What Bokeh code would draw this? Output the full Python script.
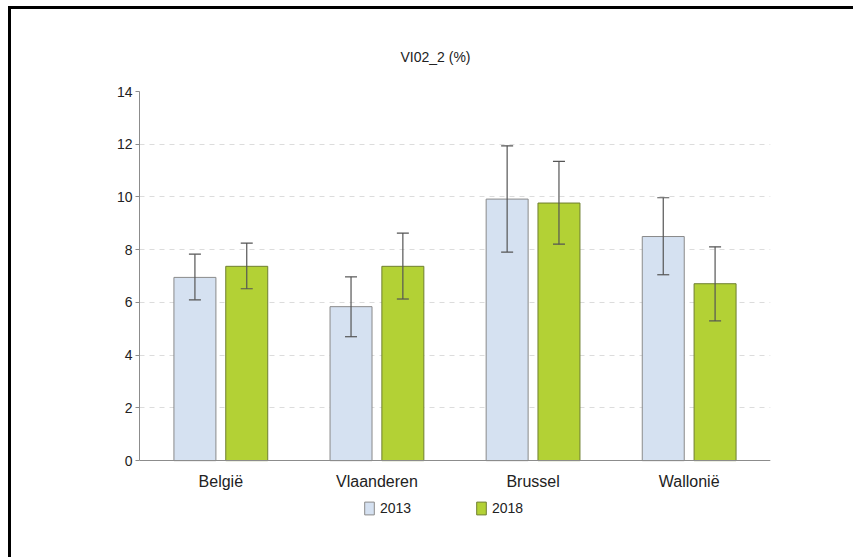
from bokeh.plotting import figure
from bokeh.models import (ColumnDataSource, FactorRange, Range1d, FixedTicker,
                          Whisker, TeeHead, Legend, LegendItem)
from bokeh.transform import dodge
from bokeh.embed import file_html
from bokeh.resources import INLINE

# ---- data ----
regions = ["België", "Vlaanderen", "Brussel", "Wallonië"]
val_2013 = [6.95, 5.84, 9.92, 8.50]
low_2013 = [6.10, 4.70, 7.91, 7.05]
up_2013 = [7.83, 6.97, 11.94, 9.97]
val_2018 = [7.37, 7.37, 9.77, 6.71]
low_2018 = [6.52, 6.13, 8.21, 5.30]
up_2018 = [8.25, 8.63, 11.35, 8.11]
years = ["2013", "2018"]
y_ticks = [0, 2, 4, 6, 8, 10, 12, 14]

FONT = "Liberation Sans"
C2013 = "#d5e1f1"
C2018 = "#b3d135"

src = ColumnDataSource(dict(cat=regions, v13=val_2013, l13=low_2013, u13=up_2013,
                            v18=val_2018, l18=low_2018, u18=up_2018))

# frame extends below zero so the legend can sit inside it; x axis pinned at 0
p = figure(x_range=FactorRange(factors=regions, range_padding=0.0105,
                               range_padding_units="percent"),
           y_range=Range1d(-2.27, 14),
           frame_width=631, frame_height=429,
           min_border_left=128, min_border_right=83,
           min_border_top=82, min_border_bottom=37,
           output_backend="svg", toolbar_location=None,
           title="VI02_2 (%)")
p.styles = {"border-left": "3px solid black", "border-top": "3px solid black",
            "margin-left": "8px", "margin-top": "6px"}

p.outline_line_color = None
p.title.text_font = FONT
p.title.text_font_size = "14px"
p.title.text_font_style = "normal"
p.title.text_color = "#222222"
p.title.align = "left"
p.title.offset = 261
p.title.standoff = 54

r13 = p.vbar(x=dodge("cat", -0.166, range=p.x_range), top="v13", width=0.269,
             source=src, fill_color=C2013, line_color="#8a8a8a", line_width=1)
r18 = p.vbar(x=dodge("cat", 0.166, range=p.x_range), top="v18", width=0.269,
             source=src, fill_color=C2018, line_color="#6f7f30", line_width=1)

for off, lo, hi in [(-0.166, "l13", "u13"), (0.166, "l18", "u18")]:
    w = Whisker(base=dodge("cat", off, range=p.x_range), lower=lo, upper=hi,
                source=src, line_color="#555555", line_width=1.2, level="overlay",
                upper_head=TeeHead(size=12, line_color="#555555", line_width=1.2),
                lower_head=TeeHead(size=12, line_color="#555555", line_width=1.2))
    p.add_layout(w)

# axes
p.yaxis.ticker = FixedTicker(ticks=y_ticks)
p.yaxis.bounds = (0, 14)
p.yaxis.axis_line_color = "#8c8c8c"
p.yaxis.major_tick_line_color = "#8c8c8c"
p.yaxis.major_tick_out = 4
p.yaxis.major_tick_in = 0
p.yaxis.minor_tick_line_color = None
p.yaxis.major_label_standoff = 3
p.yaxis.major_label_text_font = FONT
p.yaxis.major_label_text_font_size = "14px"
p.yaxis.major_label_text_color = "#222222"

p.xaxis.fixed_location = 0
p.xaxis.axis_line_color = "#8c8c8c"
p.xaxis.major_tick_line_color = None
p.xaxis.major_tick_out = 0
p.xaxis.major_label_standoff = 12
p.xaxis.major_label_text_font = FONT
p.xaxis.major_label_text_font_size = "16px"
p.xaxis.major_label_text_color = "#222222"

p.xgrid.grid_line_color = None
p.ygrid.grid_line_color = "#dcdcdc"
p.ygrid.grid_line_dash = "5 5"
p.ygrid.grid_line_width = 1

legend = Legend(items=[LegendItem(label=years[0], renderers=[r13]),
                       LegendItem(label=years[1], renderers=[r18])],
                orientation="horizontal", location=(224, 4),
                glyph_width=12, glyph_height=16, label_standoff=5,
                label_width=52, spacing=43,
                padding=0, margin=0, border_line_color=None,
                background_fill_alpha=0,
                label_text_font=FONT, label_text_font_size="14px",
                label_text_color="#222222", label_height=16)
p.add_layout(legend, "center")

open("out.html", "w").write(file_html(p, INLINE))
